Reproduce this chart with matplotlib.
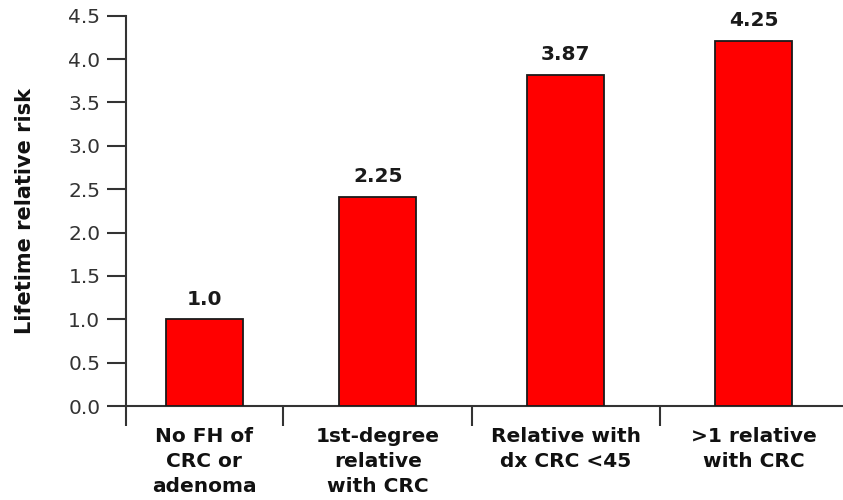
import numpy as np
import matplotlib
matplotlib.use("Agg")
import matplotlib.pyplot as plt

categories = ["No FH of\nCRC or\nadenoma", "1st-degree\nrelative\nwith CRC",
              "Relative with\ndx CRC <45", ">1 relative\nwith CRC"]
bar_heights = [1.0, 2.41, 3.82, 4.21]
value_labels = ["1.0", "2.25", "3.87", "4.25"]
yticks = [0.0, 0.5, 1.0, 1.5, 2.0, 2.5, 3.0, 3.5, 4.0, 4.5]

plt.rcParams['font.family'] = ['Verdana', 'DejaVu Sans']
fs = 14.5

fig = plt.figure(figsize=(8.43, 5.0), dpi=100)
ax = fig.add_axes([0.1495, 0.188, 0.8505, 0.7806])

xpos = np.array([0.076, 1, 2, 3])
x_left, x_right = -0.339, 3.475
ax.bar(xpos, bar_heights, width=0.41, color="#ff0000", edgecolor="#1a1a1a", linewidth=1.3, zorder=3)

for x, h, lab in zip(xpos, bar_heights, value_labels):
    ax.text(x, h + 0.17, lab, ha="center", va="baseline", fontsize=fs,
            fontweight="bold", color="#1a1a1a")

ax.set_xlim(x_left, x_right)
ax.set_ylim(0, 4.5)
ax.set_yticks(yticks)
ax.set_yticklabels([f"{v:.1f}" for v in yticks])

ax.set_xticks(xpos)
ax.set_xticklabels(categories, fontsize=fs, fontweight="bold", color="#111111", linespacing=1.4)
ax.set_xticks([x_left, 0.496, 1.5, 2.5], minor=True)
ax.tick_params(axis="x", which="major", length=0, pad=15)
ax.tick_params(axis="x", which="minor", length=14.5, width=1.5, color="#333333", direction="out")
ax.tick_params(axis="y", length=13.5, width=1.5, color="#333333", labelsize=fs,
               labelcolor="#333333", pad=5)

for s in ["top", "right"]:
    ax.spines[s].set_visible(False)
for s in ["left", "bottom"]:
    ax.spines[s].set_linewidth(1.5)
    ax.spines[s].set_color("#333333")

ax.set_ylabel("Lifetime relative risk", fontsize=15, fontweight="bold", color="#111111")
ax.yaxis.set_label_coords(-0.127, 0.5)

fig.savefig("out.png", dpi=100, facecolor="white")
